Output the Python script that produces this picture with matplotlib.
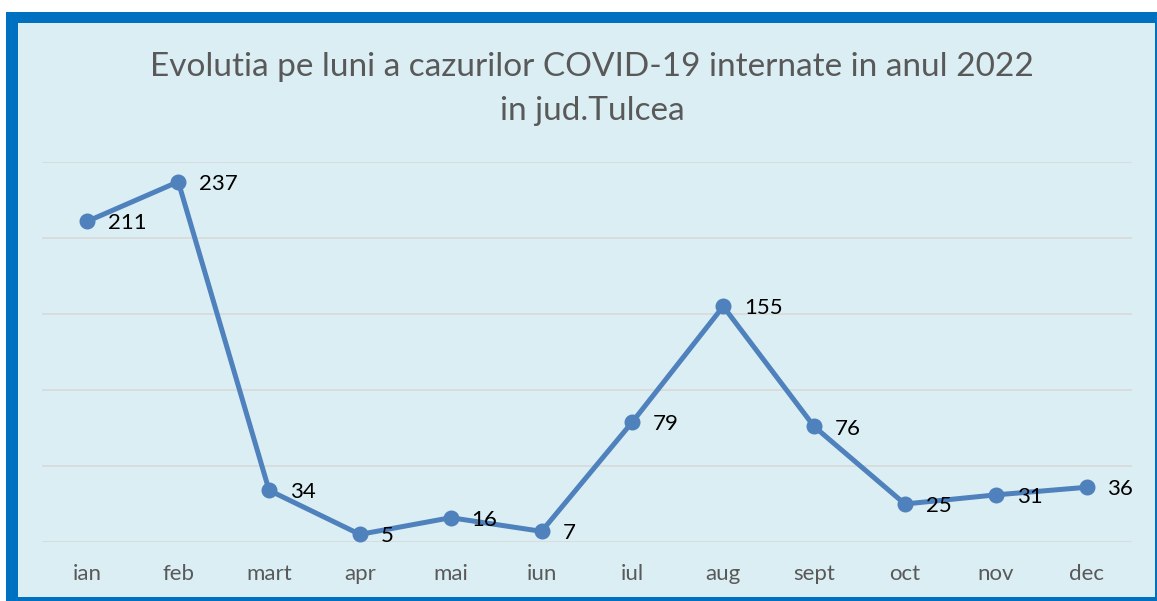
import matplotlib.pyplot as plt
from matplotlib.patches import Rectangle

# date
luni = ["ian", "feb", "mart", "apr", "mai", "iun", "iul", "aug", "sept", "oct", "nov", "dec"]
cazuri = [211, 237, 34, 5, 16, 7, 79, 155, 76, 25, 31, 36]
y_ticks = [0, 50, 100, 150, 200, 250]

W, H = 1157, 601
fig = plt.figure(figsize=(W / 100, H / 100), dpi=100)
fig.patch.set_facecolor("white")

# rama albastra + fundal
fig.patches.append(Rectangle((6 / W, 0), (W - 6) / W, (H - 12) / H, transform=fig.transFigure,
                             facecolor="#0070C0", edgecolor="none", zorder=-3))
fig.patches.append(Rectangle((18 / W, 4 / H), (W - 20) / W, (H - 27) / H, transform=fig.transFigure,
                             facecolor="#DBEEF4", edgecolor="none", zorder=-2))

ax = fig.add_axes([42 / W, 1 - 542 / H, 1090 / W, 380 / H])
ax.set_facecolor("none")
ax.set_zorder(1)

x = list(range(len(luni)))
ax.plot(x, cazuri, color="#4F81BD", linewidth=3.6, marker="o", markersize=10.5, zorder=3)

for xi, v in zip(x, cazuri):
    ax.annotate(str(v), (xi, v), xytext=(15, -1.5), textcoords="offset points",
                ha="left", va="center", fontsize=16, color="black", family="Lato")

ax.set_xlim(-0.5, len(luni) - 0.5)
ax.set_ylim(0, 250)
ax.set_yticks(y_ticks)
ax.set_yticklabels([])
ax.tick_params(axis="y", length=0)
ax.set_xticks(x)
ax.set_xticklabels(luni, fontsize=16, color="#595959", family="Lato")
ax.tick_params(axis="x", length=0, pad=16)
ax.grid(axis="y", color="#D9D9D9", linewidth=1.2)
for s in ax.spines.values():
    s.set_visible(False)

fig.text(592 / W, 1 - 89 / H, "Evolutia pe luni a cazurilor COVID-19 internate in anul 2022\nin jud.Tulcea",
         ha="center", va="center", fontsize=24, color="#595959", family="Lato", linespacing=1.6)

fig.savefig("out.png", dpi=100)
